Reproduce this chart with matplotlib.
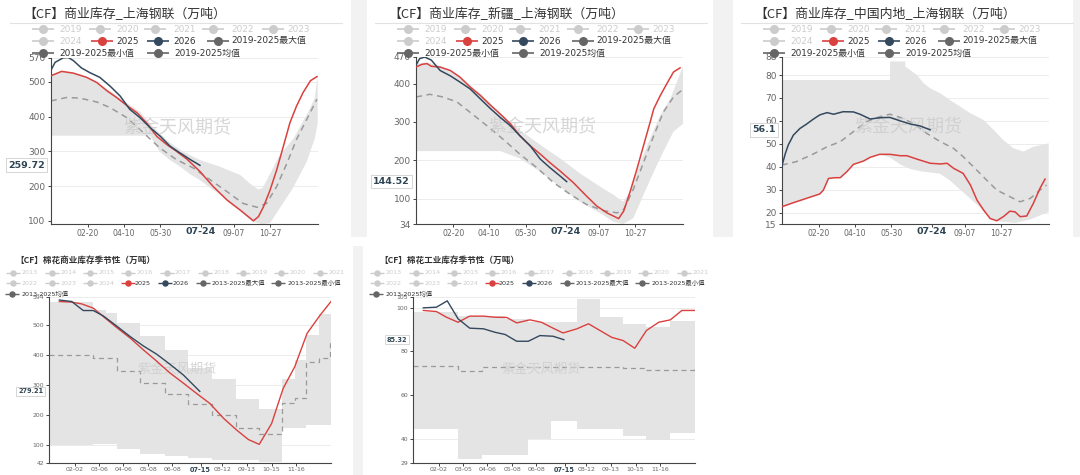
import matplotlib.pyplot as plt
from matplotlib.patches import Rectangle
import numpy as np

plt.rcParams['font.family'] = ['DejaVu Sans', 'Noto Sans CJK SC']

# ***** DATA *****
# x values are day of year (0 = Jan 1)

# panel 1: 商业库存_上海钢联
p1_2025_days = [0, 15, 31, 49, 63, 77, 90, 104, 118, 131, 145, 159, 172, 186, 204, 222, 241, 259, 273, 277,
                284, 291, 300, 309, 318, 327, 336, 345, 355, 364]
p1_2025 = [517, 530, 525, 513, 498, 474, 455, 432, 411, 382, 343, 319, 300, 278, 242, 199, 160, 131, 107, 100,
           112, 141, 189, 247, 314, 382, 430, 469, 503, 515]
p1_2026_days = [0, 6, 17, 24, 31, 42, 53, 67, 81, 95, 108, 122, 136, 150, 163, 177, 191, 204]
p1_2026 = [532, 556, 569, 570, 561, 540, 527, 513, 488, 459, 421, 397, 368, 343, 315, 295, 276, 259.72]
p1_mean_days = [0, 22, 40, 63, 81, 104, 127, 149, 172, 195, 218, 241, 263, 282, 295, 309, 323, 336, 350, 364]
p1_mean = [445, 455, 453, 442, 426, 397, 353, 310, 276, 252, 218, 184, 150, 139, 150, 199, 266, 334, 392, 450]
p1_max_days = [0, 14, 28, 42, 56, 70, 84, 98, 112, 122, 140, 160, 180, 204, 231, 259, 272, 284, 290, 295,
               313, 332, 350, 361, 365]
p1_max = [520, 532, 528, 520, 508, 490, 470, 448, 428, 414, 370, 330, 300, 275, 256, 232, 208, 190, 195, 215,
          289, 337, 405, 453, 520]
p1_min_days = [0, 136, 149, 163, 177, 190, 204, 218, 231, 245, 259, 270, 277, 290, 300, 313, 331, 350, 361, 365]
p1_min = [345, 345, 299, 275, 256, 235, 217, 195, 176, 150, 128, 108, 97, 90, 94, 136, 194, 270, 337, 380]

# panel 2: 商业库存_新疆_上海钢联
p2_2025_days = [0, 8, 15, 21, 33, 47, 60, 74, 88, 101, 115, 129, 142, 156, 170, 183, 197, 215, 233, 247,
                261, 275, 277, 284, 293, 302, 311, 320, 325, 334, 343, 352, 361]
p2_2025 = [443, 450, 452, 445, 443, 434, 417, 391, 369, 345, 321, 295, 264, 238, 216, 194, 172, 142, 107, 81,
           63, 50, 48, 68, 120, 177, 238, 299, 334, 369, 400, 430, 441]
p2_2026_days = [0, 5, 12, 21, 33, 47, 60, 74, 88, 101, 115, 129, 142, 156, 170, 183, 197, 206]
p2_2026 = [448, 465, 469, 461, 434, 420, 404, 386, 360, 336, 312, 290, 264, 238, 203, 181, 159, 144.52]
p2_mean_days = [0, 19, 37, 56, 74, 97, 119, 142, 165, 188, 211, 233, 256, 275, 284, 297, 311, 325, 338, 352, 363]
p2_mean = [365, 372, 365, 352, 325, 290, 255, 216, 181, 142, 111, 85, 69, 63, 72, 124, 194, 264, 325, 365, 382]
p2_max_days = [0, 15, 30, 45, 60, 75, 90, 100, 115, 142, 170, 197, 224, 252, 270, 283, 293, 307, 320, 334, 348, 365]
p2_max = [452, 455, 448, 435, 418, 395, 370, 352, 322, 279, 240, 205, 166, 131, 110, 92, 118, 196, 257, 318, 362, 445]
p2_min_days = [0, 115, 142, 170, 197, 224, 252, 270, 283, 297, 311, 325, 338, 352, 365]
p2_min = [224, 224, 205, 170, 131, 92, 62, 40, 34, 49, 110, 170, 222, 275, 295]

# panel 3: 商业库存_中国内地_上海钢联
p3_2025_days = [0, 16, 34, 52, 57, 64, 73, 80, 89, 98, 112, 121, 134, 148, 162, 171, 185, 203, 217, 226,
                235, 248, 258, 267, 276, 285, 294, 303, 312, 319, 326, 335, 344, 353, 360]
p3_2025 = [22.5, 24.3, 26.2, 28.1, 29.8, 34.9, 35.2, 35.2, 37.8, 41, 42.5, 44.1, 45.4, 45.4, 44.8, 44.8, 43.3,
           41.5, 41.2, 41.5, 39.3, 37.1, 32, 25.4, 21.1, 17.4, 16.4, 18.2, 20.6, 20.3, 18.2, 18.5, 24, 30.5, 34.6]
p3_2026_days = [0, 5, 9, 16, 25, 34, 43, 52, 62, 71, 84, 98, 107, 121, 135, 148, 162, 176, 189, 203]
p3_2026 = [40, 45.8, 49.5, 53.8, 56.7, 58.6, 60.7, 62.6, 63.6, 62.9, 64, 63.9, 62.9, 60.8, 61.4, 61.5, 60,
           58.6, 57.8, 56.1]
p3_mean_days = [0, 20, 43, 62, 80, 98, 116, 134, 148, 162, 180, 198, 217, 235, 248, 262, 280, 294, 312, 326,
                340, 353, 362]
p3_mean = [40.7, 42.2, 45.5, 48.7, 50.9, 55.3, 59.7, 61.8, 62.9, 61.5, 58.9, 54.6, 50.9, 48, 44.4, 40, 34.2,
           29.8, 26.9, 24.7, 26.2, 29.8, 32]
p3_max_days = [0, 148, 148, 169, 169, 185, 194, 203, 217, 230, 244, 258, 276, 290, 303, 317, 331, 344, 356, 365]
p3_max = [77.8, 77.8, 85.9, 85.9, 83.7, 80, 76.4, 74.2, 72, 69.1, 66.2, 63.3, 60.4, 56, 51.6, 48, 46.6, 48.7,
          49.5, 50.2]
p3_min_days = [0, 16, 34, 52, 57, 64, 73, 80, 89, 98, 112, 121, 134, 148, 162, 176, 190, 203, 216, 230, 244,
               258, 272, 285, 300, 320, 340, 355, 365]
p3_min = [22.5, 24.3, 26.2, 28.1, 29.8, 34.9, 35.2, 35.2, 37.8, 41, 42.5, 44.1, 45.4, 44, 41, 39, 38, 37.5, 37,
          34, 30, 26, 22, 17, 16, 15.5, 17, 19, 20.3]

# panel 4: 棉花商业库存季节性 (segment edges for the stepped series)
p4_2025_days = [13, 29, 42, 57, 70, 87, 105, 122, 139, 156, 174, 191, 208, 226, 243, 258, 272, 288, 303,
                318, 334, 351, 365]
p4_2025 = [578, 576, 570, 556, 528, 492, 456, 417, 380, 341, 306, 272, 239, 189, 150, 119, 103, 172, 289,
           361, 472, 533, 578]
p4_2026_days = [13, 29, 44, 57, 70, 87, 105, 122, 139, 156, 174, 195]
p4_2026 = [583, 578, 548, 548, 530, 497, 461, 430, 403, 370, 333, 279.21]
p4_mean_edges = [0, 56, 88, 118, 150, 180, 211, 242, 272, 302, 318, 333, 349, 364, 365]
p4_mean = [400, 389, 347, 308, 269, 236, 200, 156, 139, 241, 258, 378, 389, 444]
p4_band_edges = [0, 57, 74, 88, 118, 150, 180, 211, 242, 272, 302, 318, 333, 349, 365]
p4_max = [578, 550, 539, 506, 463, 417, 356, 319, 254, 219, 319, 383, 467, 537]
p4_min = [100, 103, 103, 86, 71, 63, 56, 52, 50, 44, 156, 156, 167, 167]

# panel 5: 棉花工业库存季节性
p5_2025_days = [13, 30, 43, 58, 73, 91, 106, 121, 134, 151, 166, 181, 194, 212, 227, 242, 257, 272, 287,
                302, 318, 333, 348, 365]
p5_2025 = [98.7, 98.2, 95.6, 93.3, 96.1, 96.1, 95.6, 95.5, 93, 94.4, 93.3, 90.6, 88.4, 90.3, 92.6, 89.5,
           86.4, 84.9, 81.4, 89.5, 93.3, 94.4, 98.7, 98.7]
p5_2026_days = [13, 30, 44, 58, 73, 91, 106, 119, 134, 149, 164, 181, 195]
p5_2026 = [99.9, 100.2, 103.1, 94.9, 90.6, 90.3, 88.7, 87.7, 84.6, 84.6, 87.2, 86.9, 85.32]
p5_mean_edges = [0, 58, 89, 119, 149, 179, 212, 242, 272, 302, 333, 364, 365]
p5_mean = [73.4, 70.8, 73.0, 73.0, 73.0, 72.8, 72.6, 72.6, 72.3, 71.6, 71.4, 73.4]
p5_band_edges = [0, 58, 89, 119, 149, 179, 212, 242, 272, 302, 333, 365]
p5_max = [98.2, 96, 96, 94.9, 93.6, 93.3, 104, 95.6, 92.6, 91, 94]
p5_min = [44.6, 30.5, 32.5, 32.5, 39.7, 48.1, 44.3, 44.3, 41.3, 39.4, 42.5]

# axis labels
top_xticks = [51, 100, 150, 205, 250, 300]
top_xlabels = ['02-20', '04-10', '05-30', '', '09-07', '10-27']
p4_xticks = [33, 65, 96, 128, 159, 196, 224, 256, 288, 320]
p4_xlabels = ['02-02', '03-06', '04-06', '05-08', '06-08', '', '08-12', '09-13', '10-15', '11-16']
p5_xlabels = ['02-02', '03-05', '04-06', '05-08', '06-08', '', '08-12', '09-13', '10-15', '11-16']

titles = ['【CF】商业库存_上海钢联（万吨）', '【CF】商业库存_新疆_上海钢联（万吨）',
          '【CF】商业库存_中国内地_上海钢联（万吨）', '【CF】棉花商业库存季节性（万吨）',
          '【CF】棉花工业库存季节性（万吨）']
watermark = '紫金天风期货'

RED = '#d9413f'
NAVY = '#34495e'
BAND = '#e4e4e4'
MEAN = '#9a9a9a'
INACT = '#cccccc'
DARK = '#666666'

W, H = 1080, 475
fig = plt.figure(figsize=(W / 100, H / 100), dpi=100)
fig.patch.set_facecolor('white')

under = fig.add_axes([0, 0, 1, 1], zorder=0)
under.set_xlim(0, W)
under.set_ylim(H, 0)
under.axis('off')
for (x, y, w, h) in [(351, 0, 16, 237), (713, 0, 20, 237), (1073, 0, 7, 237), (353, 246, 10, 229)]:
    under.add_patch(Rectangle((x, y), w, h, color='#f2f2f2', lw=0))

over = fig.add_axes([0, 0, 1, 1], zorder=3)
over.set_xlim(0, W)
over.set_ylim(H, 0)
over.axis('off')


def make_ax(l, t, r, b):
    ax = fig.add_axes([l / W, 1 - b / H, (r - l) / W, (b - t) / H], zorder=1)
    ax.set_facecolor('none')
    return ax


def steps(edges, vals):
    xs = np.repeat(edges, 2)[1:-1]
    ys = np.repeat(vals, 2)
    return xs, ys


def style_axes(ax, ylim, yticks, xticks, xlabels, small):
    fs_y = 4.4 if small else 6.5
    fs_x = 4.5 if small else 5.6
    ax.set_xlim(0, 365)
    ax.set_ylim(*ylim)
    ax.set_yticks(yticks)
    ax.set_yticklabels([str(v) for v in yticks])
    ax.set_xticks(xticks)
    ax.set_xticklabels(xlabels)
    for s in ['top', 'right']:
        ax.spines[s].set_visible(False)
    for s in ['left', 'bottom']:
        ax.spines[s].set_color('#444444')
        ax.spines[s].set_linewidth(0.8)
    ax.tick_params(axis='y', length=2.2, width=0.7, color='#444444', labelsize=fs_y,
                   labelcolor=DARK, pad=1.5)
    ax.tick_params(axis='x', length=2.2, width=0.7, color='#444444', labelsize=fs_x,
                   labelcolor=DARK, pad=1.2)
    for v in yticks[1:]:
        ax.axhline(v, color='#ececec', lw=0.7, zorder=0)


def highlight(ax, yval, ytxt, xday, xtxt, small):
    fs = 4.7 if small else 6.8
    ax.text(-0.022, yval, ytxt, transform=ax.get_yaxis_transform(), ha='right', va='center',
            fontsize=fs, fontweight='bold', color='#2f4554', zorder=6, clip_on=False,
            bbox=dict(boxstyle='square,pad=0.25', fc='white', ec='#cfcfcf', lw=0.6))
    ax.text(xday, -0.045, xtxt, transform=ax.get_xaxis_transform(), ha='center', va='center',
            fontsize=fs, fontweight='bold', color='#2f4554', clip_on=False)


def wm(ax, x, y, fs):
    ax.text(x, y, watermark, transform=ax.transAxes, ha='center', va='center', fontsize=fs,
            color='#cccccc', alpha=0.8, zorder=2.5, family=['Noto Sans CJK SC'])


def legend_item(x_m, x_t, y, label, mcol, tcol, fs, half, ms, lw):
    over.plot([x_m - half, x_m + half], [y, y], color=mcol, lw=lw, solid_capstyle='butt')
    over.plot([x_m], [y], marker='o', color=mcol, ms=ms, mec=mcol)
    over.text(x_t, y, label, color=tcol, fontsize=fs, va='center', ha='left')


# ***** TOP ROW *****
top_off = [0, 365.3, 731]
top_data = [
    (p1_2025_days, p1_2025, p1_2026_days, p1_2026, p1_mean_days, p1_mean, p1_max_days, p1_max,
     p1_min_days, p1_min, (90, 570), [100, 200, 300, 400, 500, 570], '259.72', 259.72, (57.5, 224.3)),
    (p2_2025_days, p2_2025, p2_2026_days, p2_2026, p2_mean_days, p2_mean, p2_max_days, p2_max,
     p2_min_days, p2_min, (34, 470), [34, 100, 200, 300, 400, 470], '144.52', 144.52, (56.7, 224)),
    (p3_2025_days, p3_2025, p3_2026_days, p3_2026, p3_mean_days, p3_mean, p3_max_days, p3_max,
     p3_min_days, p3_min, (15, 88), [15, 20, 30, 40, 50, 60, 70, 80, 88], '56.1', 56.1, (56.7, 224)),
]
for i, (d25, v25, d26, v26, dm, vm, dmax, vmax, dmin, vmin, ylim, yt, lab, lv, (t, b)) in enumerate(top_data):
    ox = top_off[i]
    ax = make_ax(50.7 + ox, t, 317.7 + ox, b)
    style_axes(ax, ylim, yt, top_xticks, top_xlabels, False)
    ax.fill(np.concatenate([dmax, dmin[::-1]]), np.concatenate([vmax, vmin[::-1]]),
            color=BAND, lw=0, zorder=1)
    ax.plot(dm, vm, color=MEAN, lw=1.1, ls=(0, (4, 3)), zorder=2)
    ax.plot(d25, v25, color=RED, lw=1.1, zorder=3)
    ax.plot(d26, v26, color=NAVY, lw=1.1, zorder=4)
    wm(ax, 0.473, 0.577, 13)
    highlight(ax, lv, lab, 205, '07-24', False)

    # title and legend
    over.text(23 + ox, 14, titles[i], fontsize=9.3, color='#333333', va='center', ha='left',
              family=['Noto Sans CJK SC'])
    over.plot([10 + ox, 342 + ox], [23.3, 23.3], color='#e2e2e2', lw=0.8)
    fsl = 6.4
    for lbl, xm, xt in [('2019', 43, 59), ('2020', 100, 116), ('2021', 155, 173),
                        ('2022', 213, 231), ('2023', 273, 287)]:
        legend_item(xm + ox, xt + ox, 29, lbl, INACT, INACT, fsl, 11, 5.5, 1.2)
    legend_item(43 + ox, 59 + ox, 41, '2024', INACT, INACT, fsl, 11, 5.5, 1.2)
    legend_item(102 + ox, 116 + ox, 41, '2025', RED, '#333333', fsl, 11, 5.5, 1.2)
    legend_item(158 + ox, 173 + ox, 41, '2026', NAVY, '#333333', fsl, 11, 5.5, 1.2)
    legend_item(218 + ox, 231 + ox, 41, '2019-2025最大值', DARK, '#333333', fsl, 11, 5.5, 1.2)
    legend_item(43 + ox, 59 + ox, 53, '2019-2025最小值', DARK, '#333333', fsl, 11, 5.5, 1.2)
    legend_item(158 + ox, 174 + ox, 53, '2019-2025均值', DARK, '#333333', fsl, 11, 5.5, 1.2)

# ***** BOTTOM ROW *****
bot_off = [0, 364]
bot_data = [
    (p4_2025_days, p4_2025, p4_2026_days, p4_2026, p4_mean_edges, p4_mean, p4_band_edges, p4_max, p4_min,
     (42, 594), [42, 100, 200, 300, 400, 500, 594], '279.21', 279.21, p4_xlabels),
    (p5_2025_days, p5_2025, p5_2026_days, p5_2026, p5_mean_edges, p5_mean, p5_band_edges, p5_max, p5_min,
     (29, 105), [29, 40, 60, 80, 100, 105], '85.32', 85.32, p5_xlabels),
]
for i, (d25, v25, d26, v26, me, vm, be, vmax, vmin, ylim, yt, lab, lv, xl) in enumerate(bot_data):
    ox = bot_off[i]
    ax = make_ax(49.3 + ox, 296.7, 331 + ox, 462.7)
    style_axes(ax, ylim, yt, p4_xticks, xl, True)
    bx, btop = steps(be, vmax)
    _, bbot = steps(be, vmin)
    ax.fill_between(bx, bbot, btop, color=BAND, lw=0, zorder=1)
    mx, my = steps(me, vm)
    ax.plot(mx, my, color=MEAN, lw=0.9, ls=(0, (4, 3)), zorder=2)
    ax.plot(d25, v25, color=RED, lw=1.0, zorder=3)
    ax.plot(d26, v26, color=NAVY, lw=1.0, zorder=4)
    wm(ax, 0.453, 0.562, 9.5)
    highlight(ax, lv, lab, 196, '07-15', True)

    over.text(15 + ox, 260, titles[3 + i], fontsize=6.2, color='#333333', va='center', ha='left',
              fontweight='bold', family=['Noto Sans CJK SC'])
    fsb = 4.6
    years = ['2013', '2014', '2015', '2016', '2017', '2018', '2019', '2020', '2021']
    for k, yr in enumerate(years):
        xm = 13.3 + 38.3 * k + ox
        legend_item(xm, xm + 8.5, 272.7, yr, INACT, INACT, fsb, 7, 3.6, 1.0)
    for k, yr in enumerate(['2022', '2023', '2024']):
        xm = 13.3 + 38.3 * k + ox
        legend_item(xm, xm + 8.5, 283.3, yr, INACT, INACT, fsb, 7, 3.6, 1.0)
    legend_item(128.3 + ox, 135 + ox, 283.3, '2025', RED, '#333333', fsb, 7, 3.6, 1.0)
    legend_item(165 + ox, 173 + ox, 283.3, '2026', NAVY, '#333333', fsb, 7, 3.6, 1.0)
    legend_item(203 + ox, 212 + ox, 283.3, '2013-2025最大值', DARK, '#333333', fsb, 7, 3.6, 1.0)
    legend_item(278 + ox, 288 + ox, 283.3, '2013-2025最小值', DARK, '#333333', fsb, 7, 3.6, 1.0)
    legend_item(11.7 + ox, 21.7 + ox, 294.3, '2013-2025均值', DARK, '#333333', fsb, 7, 3.6, 1.0)

fig.savefig('out.png', dpi=100, facecolor='white')
